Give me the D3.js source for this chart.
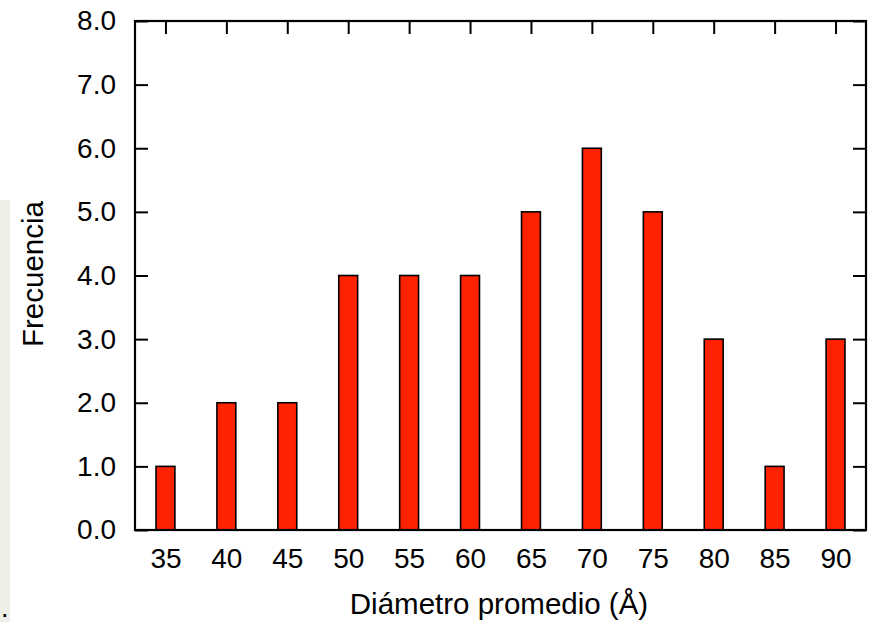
<!DOCTYPE html>
<html>
<head>
<meta charset="utf-8">
<script src="https://cdn.jsdelivr.net/npm/d3@7"></script>
<style>
  html, body { margin: 0; padding: 0; background: #ffffff; }
  svg { display: block; }
  text { font-family: "Liberation Sans", Arial, Helvetica, sans-serif; fill: #000; }
</style>
</head>
<body>
<svg id="chart" width="875" height="622"></svg>
<script>
const categories = ["35", "40", "45", "50", "55", "60", "65", "70", "75", "80", "85", "90"];
const frequencies = [1, 2, 2, 4, 4, 4, 5, 6, 5, 3, 1, 3];
const yTicks = [0, 1, 2, 3, 4, 5, 6, 7, 8];
const xTitle = "Diámetro promedio (Å)";
const yTitle = "Frecuencia";

const W = 875, H = 622;
const plot = { left: 135, right: 866, top: 21, bottom: 530 };
const svg = d3.select("#chart");

// stray page background strip and dot from the source document
svg.append("rect").attr("x", 0).attr("y", 200).attr("width", 10).attr("height", H - 200)
  .attr("fill", "#efeee6");
svg.append("text").attr("x", 1).attr("y", 617).attr("font-size", 27).text(".");

const x = d3.scalePoint().domain(categories).range([plot.left, plot.right]).padding(0.5);
const y = d3.scaleLinear().domain([0, 8]).range([plot.bottom, plot.top]);
const barW = x.step() * 0.31;
const tickLen = 13;
const fontSize = 28;
const titleSize = 29.5;

// bottom axis (ticks hidden behind bars)
const gx = svg.append("g").attr("transform", `translate(0,${plot.bottom})`)
  .call(d3.axisBottom(x).tickSizeInner(-tickLen).tickSizeOuter(0).tickPadding(18));
gx.select(".domain").remove();
gx.selectAll(".tick line").attr("stroke", "#000").attr("stroke-width", 2);
gx.selectAll(".tick text").attr("font-size", fontSize).attr("font-family", null);

// top mirrored ticks
const gxt = svg.append("g").attr("transform", `translate(0,${plot.top})`)
  .call(d3.axisTop(x).tickSizeInner(-tickLen).tickSizeOuter(0).tickFormat(""));
gxt.select(".domain").remove();
gxt.selectAll(".tick line").attr("stroke", "#000").attr("stroke-width", 2);

// left axis
const gy = svg.append("g").attr("transform", `translate(${plot.left},0)`)
  .call(d3.axisLeft(y).tickValues(yTicks).tickFormat(d3.format(".1f"))
    .tickSizeInner(-tickLen).tickSizeOuter(0).tickPadding(19));
gy.select(".domain").remove();
gy.selectAll(".tick line").attr("stroke", "#000").attr("stroke-width", 2);
gy.selectAll(".tick text").attr("font-size", fontSize).attr("font-family", null);

// right mirrored ticks
const gyr = svg.append("g").attr("transform", `translate(${plot.right},0)`)
  .call(d3.axisRight(y).tickValues(yTicks).tickSizeInner(-tickLen).tickSizeOuter(0).tickFormat(""));
gyr.select(".domain").remove();
gyr.selectAll(".tick line").attr("stroke", "#000").attr("stroke-width", 2);

// bars
svg.append("g").selectAll("rect").data(categories).join("rect")
  .attr("x", d => x(d) - barW / 2)
  .attr("y", (d, i) => y(frequencies[i]))
  .attr("width", barW)
  .attr("height", (d, i) => y(0) - y(frequencies[i]))
  .attr("fill", "#ff2200")
  .attr("stroke", "#000")
  .attr("stroke-width", 1.6);

// frame
svg.append("rect").attr("x", plot.left).attr("y", plot.top)
  .attr("width", plot.right - plot.left).attr("height", plot.bottom - plot.top)
  .attr("fill", "none").attr("stroke", "#000").attr("stroke-width", 2.2);

// axis titles
svg.append("text").attr("x", 499).attr("y", 614).attr("text-anchor", "middle")
  .attr("font-size", titleSize).text(xTitle);
svg.append("text").attr("transform", "translate(43,274) rotate(-90)")
  .attr("text-anchor", "middle").attr("font-size", titleSize).text(yTitle);
</script>
</body>
</html>
